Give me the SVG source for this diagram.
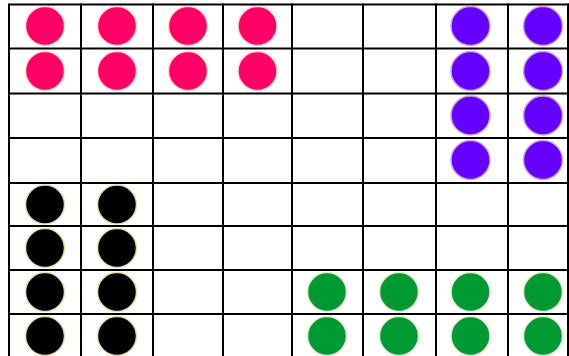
<svg xmlns="http://www.w3.org/2000/svg" width="569" height="356" viewBox="0 0 569 356">
<style>
.grid line{stroke:#000;stroke-width:2}
.pink{fill:#ff0066;stroke:#ffd8c8;stroke-width:1.5}
.purple{fill:#6600ff;stroke:#d0a8c8;stroke-width:1.5}
.black{fill:#000;stroke:#e8dcb0;stroke-width:1.5}
.green{fill:#009933;stroke:#e4eccc;stroke-width:1.5}
</style>
<rect width="569" height="356" fill="#fff"/>
<g id="grid" class="grid">
<line x1="9" y1="4.5" x2="569" y2="4.5"/>
<line x1="9" y1="48.5" x2="569" y2="48.5"/>
<line x1="9" y1="93.5" x2="569" y2="93.5"/>
<line x1="9" y1="138" x2="569" y2="138"/>
<line x1="9" y1="183" x2="569" y2="183"/>
<line x1="9" y1="226" x2="569" y2="226"/>
<line x1="9" y1="270" x2="569" y2="270"/>
<line x1="9" y1="314" x2="569" y2="314"/>
<line x1="9" y1="3.5" x2="9" y2="356"/>
<line x1="81" y1="3.5" x2="81" y2="356"/>
<line x1="153" y1="3.5" x2="153" y2="356"/>
<line x1="223" y1="3.5" x2="223" y2="356"/>
<line x1="292" y1="3.5" x2="292" y2="356"/>
<line x1="363" y1="3.5" x2="363" y2="356"/>
<line x1="436" y1="3.5" x2="436" y2="356"/>
<line x1="508" y1="3.5" x2="508" y2="356"/>
<line x1="568" y1="3.5" x2="568" y2="356"/>
</g>
<g id="pink-pieces" class="pink">
<circle cx="45" cy="26" r="19.5"/><circle cx="117" cy="26" r="19.5"/><circle cx="188" cy="26" r="19.5"/><circle cx="257.5" cy="26" r="19.5"/>
<circle cx="45" cy="71" r="19.5"/><circle cx="117" cy="71" r="19.5"/><circle cx="188" cy="71" r="19.5"/><circle cx="257.5" cy="71" r="19.5"/>
</g>
<g id="purple-pieces" class="purple">
<circle cx="470.5" cy="26" r="19.5"/><circle cx="543" cy="26" r="19.5"/>
<circle cx="470.5" cy="71" r="19.5"/><circle cx="543" cy="71" r="19.5"/>
<circle cx="470.5" cy="115.5" r="19.5"/><circle cx="543" cy="115.5" r="19.5"/>
<circle cx="470.5" cy="160" r="19.5"/><circle cx="543" cy="160" r="19.5"/>
</g>
<g id="black-pieces" class="black">
<circle cx="45" cy="204.5" r="19.5"/><circle cx="117" cy="204.5" r="19.5"/>
<circle cx="45" cy="248" r="19.5"/><circle cx="117" cy="248" r="19.5"/>
<circle cx="45" cy="292" r="19.5"/><circle cx="117" cy="292" r="19.5"/>
<circle cx="45" cy="336" r="19.5"/><circle cx="117" cy="336" r="19.5"/>
</g>
<g id="green-pieces" class="green">
<circle cx="327" cy="292" r="19.5"/><circle cx="399" cy="292" r="19.5"/><circle cx="470.5" cy="292" r="19.5"/><circle cx="543" cy="292" r="19.5"/>
<circle cx="327" cy="336" r="19.5"/><circle cx="399" cy="336" r="19.5"/><circle cx="470.5" cy="336" r="19.5"/><circle cx="543" cy="336" r="19.5"/>
</g>
</svg>
